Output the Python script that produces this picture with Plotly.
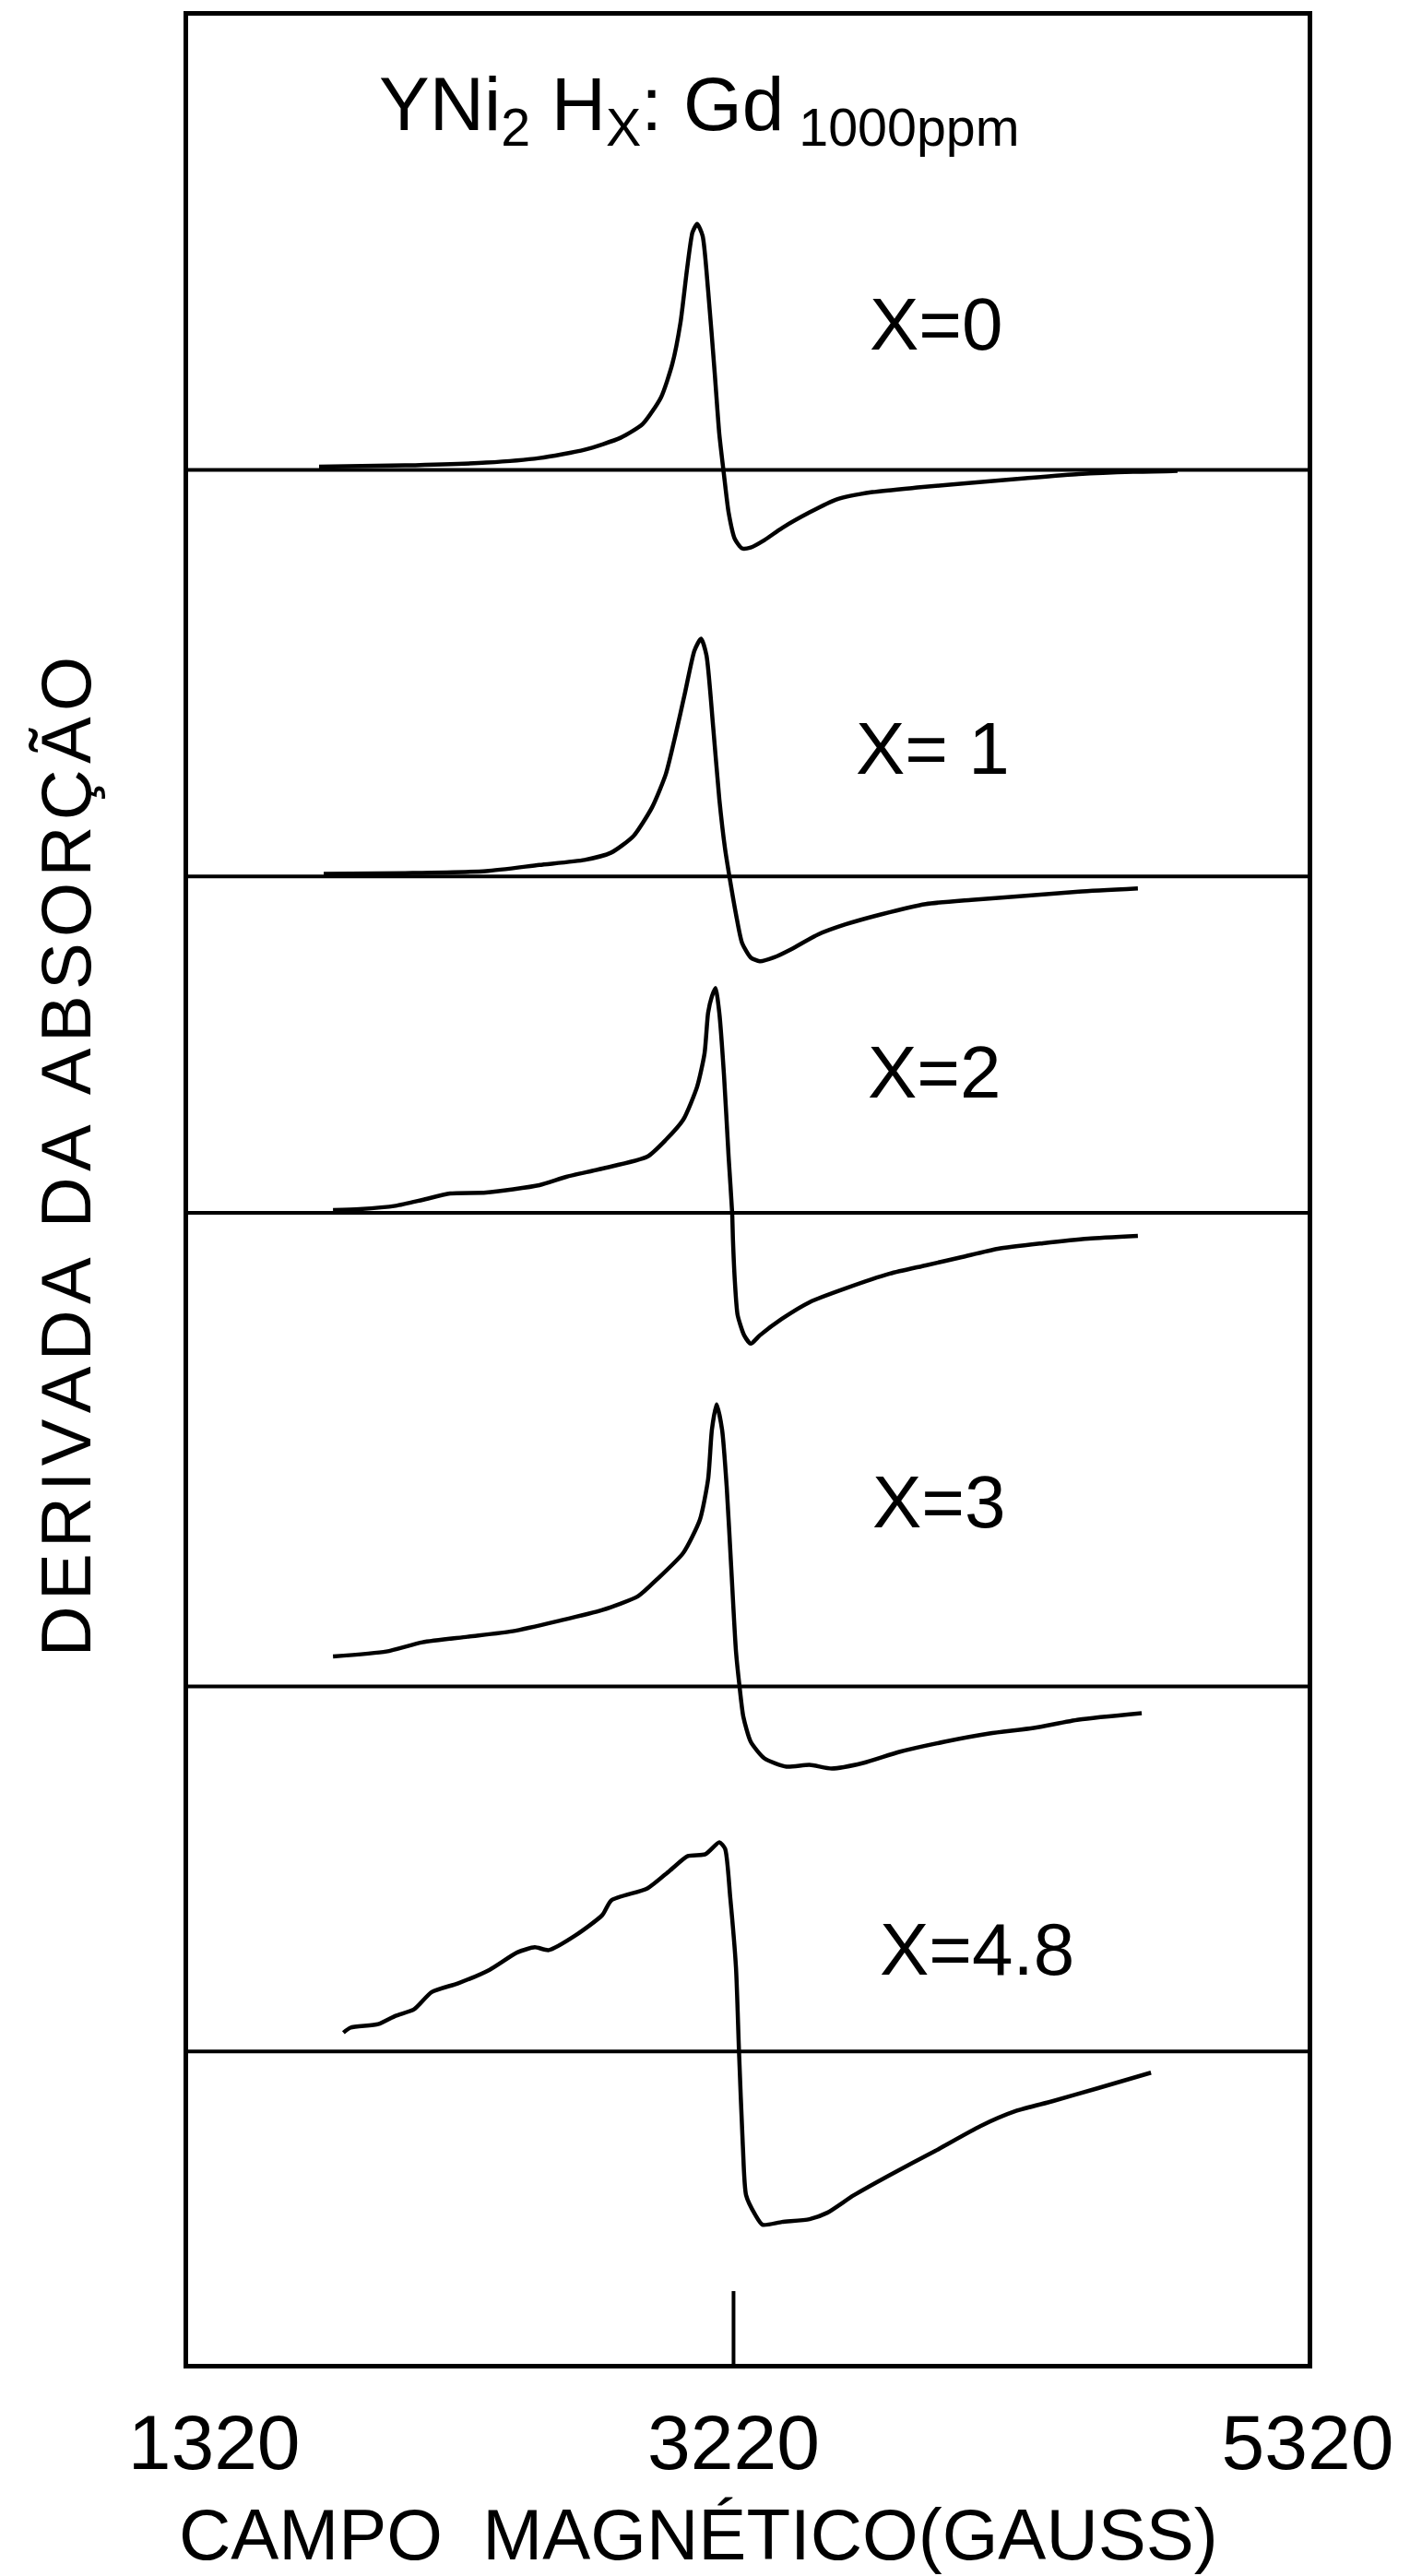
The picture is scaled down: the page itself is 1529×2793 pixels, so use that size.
import plotly.graph_objects as go

# ---- data (field in gauss, derivative in arbitrary units) ----
labels = ["X=0", "X= 1", "X=2", "X=3", "X=4.8"]
baselines = [205.5, 161.4, 124.9, 73.5, 33.9]

field_x0 = [1704, 2018, 2315, 2510, 2675, 2807, 2888, 2955, 2996, 3026, 3050, 3070, 3087, 3107,
            3127, 3151, 3168, 3185, 3202, 3225, 3251, 3283, 3333, 3397, 3498, 3596, 3728, 3893,
            4089, 4288, 4483, 4682, 4844]
amp_x0 = [0.35, 0.5, 0.8, 1.3, 2.2, 3.5, 5.0, 7.9, 11.5, 16.0, 21.8, 25.8, 26.7, 25.4,
          19.5, 10.6, 3.9, -0.5, -4.6, -7.5, -8.5, -8.4, -7.6, -6.3, -4.6, -3.2, -2.4, -1.9,
          -1.4, -0.9, -0.45, -0.2, -0.1]

field_x1 = [1721, 2018, 2315, 2510, 2675, 2773, 2854, 2922, 2972, 3009, 3043, 3077, 3101, 3121,
            3145, 3168, 3189, 3208, 3229, 3251, 3283, 3316, 3367, 3431, 3529, 3630, 3762, 3923,
            4089, 4288, 4483, 4699]
amp_x1 = [0.27, 0.36, 0.58, 1.25, 1.79, 2.59, 4.38, 7.5, 11.07, 15.5, 20.0, 24.5, 25.8, 24.0,
          16.4, 8.4, 3.0, -0.54, -4.1, -7.2, -8.8, -9.2, -8.8, -7.9, -6.3, -5.2, -4.1, -3.0,
          -2.54, -2.1, -1.65, -1.3]

field_x2 = [1755, 1852, 1984, 2082, 2183, 2315, 2510, 2608, 2740, 2905, 2972, 3036, 3087, 3114,
            3127, 3141, 3154, 3168, 3185, 3202, 3215, 3218, 3225, 3235, 3259, 3283, 3316, 3397,
            3498, 3630, 3792, 3923, 4055, 4187, 4352, 4517, 4699]
amp_x2 = [0.3, 0.4, 0.76, 1.4, 2.1, 2.2, 3.0, 3.9, 4.8, 6.1, 7.9, 10.1, 13.7, 17.3,
          21.7, 23.5, 24.4, 21.7, 15.0, 6.1, 0.0, -3.0, -7.5, -11.1, -13.3, -14.2, -13.3, -11.5,
          -9.7, -8.2, -6.6, -5.7, -4.8, -3.9, -3.3, -2.8, -2.5]

field_x3 = [1755, 1950, 2082, 2247, 2412, 2578, 2740, 2871, 2939, 3036, 3097, 3127, 3141, 3158,
            3178, 3195, 3212, 3229, 3242, 3256, 3283, 3333, 3414, 3498, 3579, 3694, 3826, 3991,
            4156, 4318, 4483, 4713]
amp_x3 = [3.26, 3.8, 4.8, 5.4, 6.0, 7.1, 8.3, 9.8, 11.6, 14.5, 18.1, 22.5, 27.9, 30.6,
          27.9, 21.7, 12.7, 3.8, 0.0, -3.3, -6.0, -7.8, -8.7, -8.5, -8.9, -8.3, -7.1, -6.0,
          -5.1, -4.5, -3.6, -2.9]

field_x48 = [1793, 1819, 1920, 1984, 2051, 2116, 2213, 2328, 2429, 2493, 2544, 2642, 2740, 2773,
             2905, 2986, 3053, 3117, 3168, 3189, 3208, 3229, 3240, 3254, 3266, 3299, 3326, 3397,
             3498, 3563, 3660, 3792, 3957, 4123, 4254, 4386, 4551, 4747]
amp_x48 = [2.04, 2.58, 2.96, 3.87, 4.57, 6.45, 7.4, 8.87, 10.75, 11.3, 11.0, 12.6, 14.8, 16.4,
           17.7, 19.6, 21.2, 21.4, 22.7, 22.0, 16.7, 9.1, 0.0, -10.2, -15.6, -17.7, -18.8, -18.5,
           -18.2, -17.5, -15.6, -13.4, -10.8, -8.1, -6.45, -5.4, -4.0, -2.3]

label_field = [3961, 3950, 3957, 3974, 4112]
label_y = [221.3, 175.3, 140.2, 93.5, 45.0]

tick_vals = [1320, 3220, 5320]
tick_text = ["1320", "3220", "5320"]
resonance_mark = 3220

fields = [field_x0, field_x1, field_x2, field_x3, field_x48]
amps = [amp_x0, amp_x1, amp_x2, amp_x3, amp_x48]

FONT = "Liberation Sans, Arial, sans-serif"

fig = go.Figure()
for f, a, b, name in zip(fields, amps, baselines, labels):
    fig.add_trace(go.Scatter(
        x=f, y=[v + b for v in a], mode="lines", name=name,
        line=dict(color="black", width=4.5, shape="spline", smoothing=0.6),
        showlegend=False, hoverinfo="skip"))

shapes = []
for b in baselines:
    shapes.append(dict(type="line", xref="paper", x0=0, x1=1, yref="y", y0=b, y1=b,
                       line=dict(color="black", width=4), layer="below"))
shapes.append(dict(type="line", xref="x", x0=resonance_mark, x1=resonance_mark,
                   yref="paper", y0=0, y1=0.031, line=dict(color="black", width=4)))

annotations = []
for t, xv, yv in zip(labels, label_field, label_y):
    annotations.append(dict(x=xv, y=yv, xref="x", yref="y", text=t, showarrow=False,
                            font=dict(family=FONT, size=80, color="black"),
                            xanchor="center", yanchor="middle"))

annotations.append(dict(x=3094, y=244.6, xref="x", yref="y",
                        text="YNi<sub>2</sub> H<sub>X</sub>: Gd<sub> 1000ppm</sub>",
                        showarrow=False, font=dict(family=FONT, size=82, color="black"),
                        xanchor="center", yanchor="middle"))

annotations.append(dict(x=0.456, y=-0.0725, xref="paper", yref="paper",
                        text="CAMPO  MAGNÉTICO(GAUSS)", showarrow=False,
                        font=dict(family=FONT, size=78, color="black"),
                        xanchor="center", yanchor="middle"))

hs = "\u200a"
ytitle = hs.join(list("DERIVADA")) + " \u2009" + hs.join(list("DA")) + \
         " \u2009" + hs.join(list("ABSORÇÃO"))
annotations.append(dict(x=-0.1096, y=0.514, xref="paper", yref="paper",
                        text=ytitle, textangle=-90, showarrow=False,
                        font=dict(family=FONT, size=76, color="black"),
                        xanchor="center", yanchor="middle"))

fig.update_layout(
    width=1529, height=2793,
    margin=dict(l=204, r=111, t=15, b=230),
    paper_bgcolor="white", plot_bgcolor="white",
    shapes=shapes, annotations=annotations,
    xaxis=dict(range=[1225, 5320], showgrid=False, zeroline=False,
               showline=True, linecolor="black", linewidth=5, mirror=True,
               ticks="", tickvals=tick_vals, ticktext=tick_text,
               tickfont=dict(family=FONT, size=84, color="black"),
               ticklabelstandoff=8),
    yaxis=dict(range=[0, 254.8], showgrid=False, zeroline=False,
               showline=True, linecolor="black", linewidth=5, mirror=True,
               ticks="", showticklabels=False),
)

fig.write_html("out.html")
